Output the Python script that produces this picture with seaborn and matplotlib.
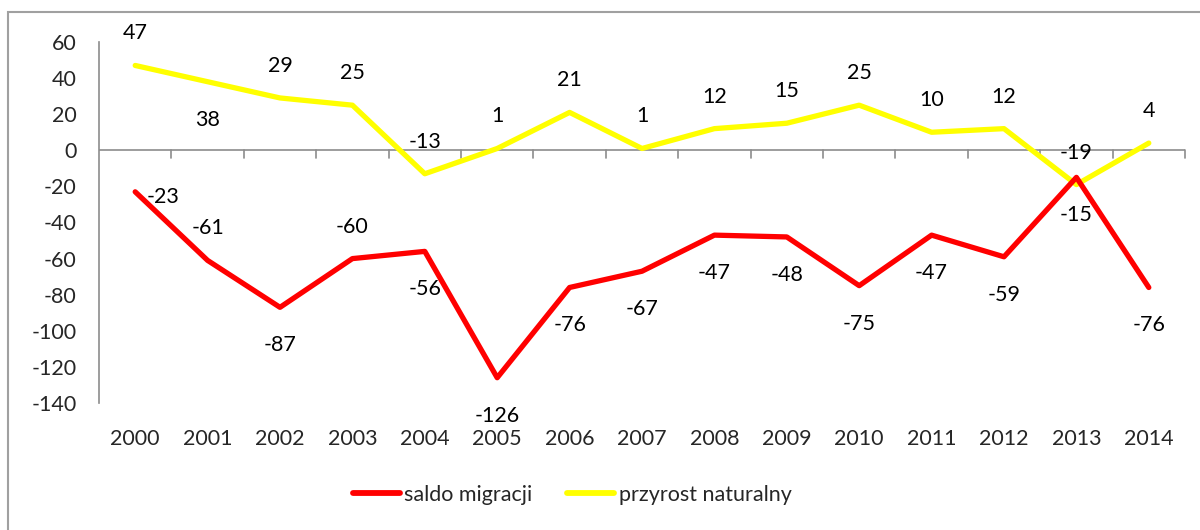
import pandas as pd
import matplotlib.pyplot as plt
import matplotlib.patches as mpatches
import seaborn as sns

# data
years = list(range(2000, 2015))
saldo_migracji = [-23, -61, -87, -60, -56, -126, -76, -67, -47, -48, -75, -47, -59, -15, -76]
przyrost_naturalny = [47, 38, 29, 25, -13, 1, 21, 1, 12, 15, 25, 10, 12, -19, 4]

series_names = ['saldo migracji', 'przyrost naturalny']
colors = {'saldo migracji': '#FF0000', 'przyrost naturalny': '#FFFF00'}

# label placement (pixels offset from the point)
red_pos = ['right', 'up', 'down', 'up', 'down', 'down', 'down', 'down',
           'down', 'down', 'down', 'down', 'down', 'down', 'down']
yel_pos = ['up', 'down', 'up', 'up', 'up', 'up', 'up', 'up',
           'up', 'up', 'up', 'up', 'up', 'up', 'up']
offsets = {'up': (0, 32), 'down': (0, -38), 'right': (28, -5)}

df = pd.concat([
    pd.DataFrame({'rok': years, 'wartosc': saldo_migracji, 'seria': series_names[0]}),
    pd.DataFrame({'rok': years, 'wartosc': przyrost_naturalny, 'seria': series_names[1]}),
])

sns.set_style('white')
plt.rcParams['font.family'] = ['Lato', 'DejaVu Sans']
plt.rcParams['axes.unicode_minus'] = False
fs = 15.5

fig = plt.figure(figsize=(12, 5.3), dpi=100)
ax = fig.add_axes([99 / 1200, 1 - 403 / 530, (1185 - 99) / 1200, (403 - 42) / 530])

sns.lineplot(data=df, x='rok', y='wartosc', hue='seria', palette=colors,
             linewidth=3.8, ax=ax, legend=False)
ax.lines[0].set_zorder(3)
ax.lines[1].set_zorder(2)

ax.set_xlim(1999.5, 2014.5)
ax.set_ylim(-140, 60)
ax.set_yticks(range(-140, 61, 20))
ax.set_xticks(years)
ax.set_xticklabels([str(y) for y in years])
ax.set_xlabel('')
ax.set_ylabel('')

grey = '#8c8c8c'
for s in ['top', 'right', 'bottom']:
    ax.spines[s].set_visible(False)
ax.spines['left'].set_color(grey)
ax.spines['left'].set_linewidth(1.2)
ax.tick_params(axis='y', length=7, width=1.2, color=grey, labelsize=fs, pad=9, direction='out')
ax.tick_params(axis='x', length=0, labelsize=fs, pad=19)

# zero line with category ticks
ax.axhline(0, color=grey, linewidth=1.2, zorder=1)
for b in [y + 0.5 for y in years]:
    ax.plot([b, b], [0, -4.3], color=grey, linewidth=1.2, zorder=1, clip_on=False)

# value labels
for vals, pos in [(saldo_migracji, red_pos), (przyrost_naturalny, yel_pos)]:
    for x, v, p in zip(years, vals, pos):
        dx, dy = offsets[p]
        ax.annotate(str(v), (x, v), xytext=(dx, dy), textcoords='offset pixels',
                    ha='center', va='center', fontsize=fs, color='black', zorder=4)

handles = [plt.Line2D([], [], color=colors[n], linewidth=4.2, solid_capstyle='round') for n in series_names]
fig.legend(handles, series_names, loc='center', bbox_to_anchor=(572 / 1200, 1 - 495 / 530),
           ncol=2, frameon=False, fontsize=fs, handlelength=2.2, handletextpad=0.2,
           columnspacing=1.6)

# outer chart border
fig.patches.append(mpatches.Rectangle((8 / 1200, -0.1), 1.2, 1 - 12 / 530 + 0.1,
                                      transform=fig.transFigure, fill=False,
                                      edgecolor='#a0a0a0', linewidth=1.5))

fig.savefig('out.png', dpi=100)
